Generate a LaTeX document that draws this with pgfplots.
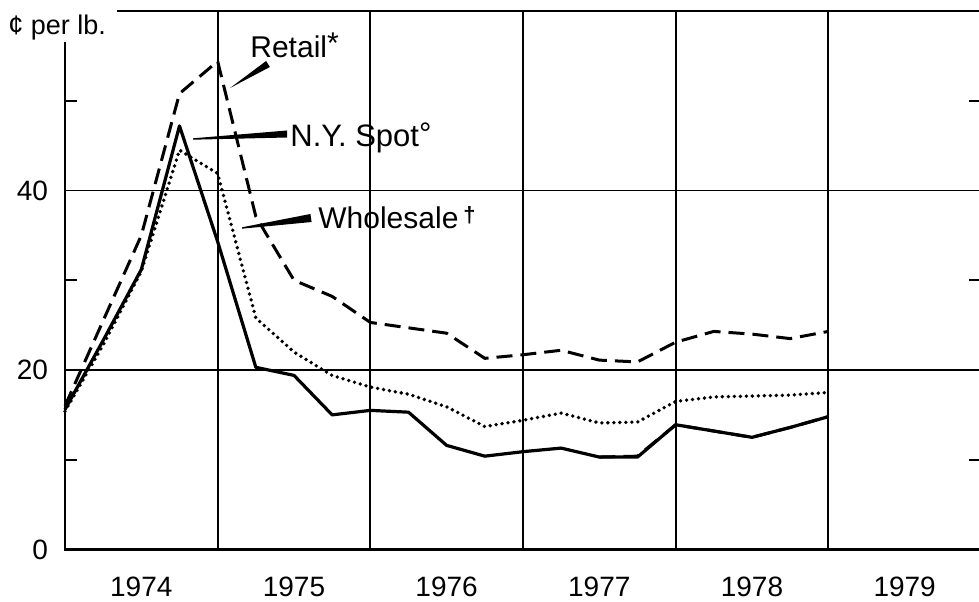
\documentclass[border=0pt]{standalone}
\usepackage{pgfplots}
\pgfplotsset{compat=1.18}
\usepackage{pgfplotstable}
\usepackage{fontspec}
\setmainfont{Liberation Sans}

\pgfplotstableread{
x       retail spot wholesale
1974.00 16.0   15.6  15.4
1974.25 25.5   23.3  22.8
1974.50 35.0   31.2  31.0
1974.75 50.8   47.2  44.5
1975.00 54.4   34.3  41.9
1975.25 37.1   20.3  25.8
1975.50 30.0   19.4  22.0
1975.75 28.2   15.0  19.4
1976.00 25.3   15.5  18.1
1976.25 24.7   15.3  17.3
1976.50 24.1   11.6  15.9
1976.75 21.3   10.4  13.7
1977.00 21.7   10.9  14.4
1977.25 22.2   11.3  15.2
1977.50 21.1   10.3  14.1
1977.75 20.9   10.3  14.2
1978.00 23.1   13.9  16.5
1978.25 24.3   13.2  17.0
1978.50 24.0   12.5  17.1
1978.75 23.5   13.6  17.2
1979.00 24.3   14.8  17.5
}\data

\pgfplotstableread{
x       spot
1977.50 10.3
1977.75 10.4
1978.00 13.9
1978.25 13.2
1978.50 12.5
1978.75 13.6
1979.00 14.8
}\spotlate

\begin{document}
\begin{tikzpicture}
\begin{axis}[
  at={(32.5pt,25.75pt)}, anchor=south west,
  scale only axis, width=458pt, height=269.25pt,
  xmin=1974, xmax=1980, ymin=0, ymax=60,
  xtick={1974,1975,...,1980},
  x tick label as interval,
  xticklabels={1974,1975,1976,1977,1978,1979},
  minor x tick num=3,
  xtick pos=left,
  ytick={0,20,40},
  extra y ticks={10,30,50},
  extra y tick labels={},
  extra y tick style={grid=none, major tick length=6pt},
  xmajorgrids, ymajorgrids,
  grid style={black, line width=0.9pt},
  major tick length=8pt, minor tick length=8pt,
  tick style={black, line width=0.9pt},
  tick align=inside,
  axis line style={black, line width=1.2pt},
  /pgf/number format/assume math mode=true,
  tick label style={font=\fontsize{14}{16}\selectfont},
  yticklabel style={xshift=-5pt},
  xticklabel style={yshift=-10pt},
  clip=false,
]
\addplot[black, line width=1.5pt, dash pattern=on 8pt off 4pt, line join=round] table[x=x, y=retail] {\data};
\addplot[black, line width=1.6pt, line join=round] table[x=x, y=spot] {\data};
\addplot[black, line width=1.5pt, dash pattern=on 8pt off 4pt, line join=round] table[x=x, y=spot] {\spotlate};
\addplot[black, line width=1.9pt, dash pattern=on 0pt off 3pt, line cap=round] table[x=x, y=wholesale] {\data};
\end{axis}
\begin{scope}[x=0.5pt, y=-0.5pt, shift={(0pt,300.5pt)}]
  \fill[white] (-2,-2) rectangle (117,42);
  \node[anchor=base west, inner sep=0, font=\fontsize{13.5}{15}\selectfont] at (8,35) {¢ per lb.};
  \node[anchor=base west, inner sep=0, font=\fontsize{15}{17}\selectfont] at (250,58) {Retail\raisebox{2pt}{*}};
  \node[anchor=base west, inner sep=0, font=\fontsize{15.5}{17}\selectfont] at (290,147) {N.Y. Spot\raisebox{1.5pt}{°}};
  \node[anchor=base west, inner sep=0, font=\fontsize{15}{17}\selectfont] at (318,228) {Wholesale\,\raisebox{3pt}{\fontsize{11}{12}\selectfont\textbf{†}}};
  % leader wedges
  \fill[black] (230,88) -- (269.9,67) -- (266.1,61) -- cycle;
  \fill[black] (193,139.7) -- (193,138.3) -- (287,130.5) -- (287,137.5) -- cycle;
  \fill[black] (242,228.7) -- (242,227.3) -- (310.4,214) -- (311.6,222) -- cycle;
\end{scope}
\pgfresetboundingbox
\path (0,0) rectangle (489.5pt,300.5pt);
\end{tikzpicture}
\end{document}
